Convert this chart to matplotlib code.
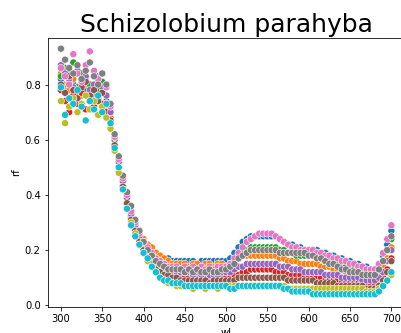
import numpy as np
import pandas as pd
import matplotlib
matplotlib.use("Agg")
import matplotlib.pyplot as plt
import seaborn as sns

# comprimento de onda (nm), passo de 5
wl = list(range(300, 705, 5))

# reflectancia de cada amostra
s1 = [0.82, 0.79, 0.84, 0.80, 0.77, 0.81, 0.78, 0.80, 0.76, 0.79, 0.77, 0.74,
      0.70, 0.60, 0.52, 0.45, 0.39, 0.34, 0.30, 0.27,
      0.24, 0.22, 0.20, 0.19, 0.18, 0.17, 0.17, 0.16,
      0.16, 0.16, 0.16, 0.16, 0.16, 0.15, 0.16, 0.16, 0.16, 0.16, 0.16, 0.16,
      0.16, 0.17, 0.19, 0.21, 0.23, 0.24, 0.25, 0.25,
      0.25, 0.25, 0.25, 0.25, 0.25, 0.24, 0.23, 0.22, 0.22, 0.21, 0.21, 0.20,
      0.20, 0.20, 0.20, 0.19, 0.19, 0.18, 0.18, 0.17, 0.17, 0.16, 0.16, 0.15,
      0.15, 0.14, 0.14, 0.13, 0.13, 0.15, 0.18, 0.22, 0.27]
s2 = [0.84, 0.80, 0.78, 0.82, 0.79, 0.76, 0.80, 0.77, 0.79, 0.75, 0.78, 0.72,
      0.68, 0.60, 0.53, 0.46, 0.40, 0.34, 0.30, 0.27,
      0.24, 0.22, 0.21, 0.19, 0.18, 0.17, 0.16, 0.15,
      0.15, 0.15, 0.15, 0.14, 0.15, 0.15, 0.14, 0.15, 0.15, 0.14, 0.15, 0.15,
      0.14, 0.15, 0.16, 0.17, 0.18, 0.18, 0.18, 0.18,
      0.18, 0.18, 0.18, 0.18, 0.18, 0.17, 0.17, 0.16, 0.16, 0.16, 0.15, 0.15,
      0.15, 0.15, 0.15, 0.14, 0.14, 0.14, 0.13, 0.13, 0.13, 0.12, 0.12, 0.12,
      0.11, 0.11, 0.11, 0.10, 0.10, 0.12, 0.14, 0.17, 0.21]
s3 = [0.83, 0.86, 0.81, 0.88, 0.79, 0.84, 0.82, 0.80, 0.83, 0.78, 0.81, 0.76,
      0.70, 0.60, 0.52, 0.45, 0.39, 0.33, 0.29, 0.26,
      0.23, 0.20, 0.18, 0.17, 0.16, 0.15, 0.14, 0.14,
      0.13, 0.13, 0.13, 0.12, 0.13, 0.12, 0.12, 0.13, 0.12, 0.12, 0.12, 0.13,
      0.13, 0.14, 0.16, 0.18, 0.19, 0.20, 0.21, 0.21,
      0.21, 0.21, 0.21, 0.21, 0.21, 0.20, 0.20, 0.19, 0.19, 0.18, 0.18, 0.18,
      0.18, 0.18, 0.17, 0.17, 0.16, 0.16, 0.15, 0.15, 0.14, 0.14, 0.14, 0.13,
      0.13, 0.12, 0.12, 0.11, 0.11, 0.13, 0.16, 0.20, 0.24]
s4 = [0.78, 0.74, 0.70, 0.76, 0.73, 0.77, 0.71, 0.74, 0.72, 0.75, 0.73, 0.70,
      0.66, 0.58, 0.50, 0.43, 0.37, 0.32, 0.28, 0.24,
      0.21, 0.18, 0.16, 0.15, 0.14, 0.13, 0.12, 0.12,
      0.11, 0.11, 0.11, 0.10, 0.11, 0.10, 0.10, 0.11, 0.10, 0.10, 0.10, 0.10,
      0.10, 0.10, 0.11, 0.11, 0.12, 0.12, 0.13, 0.13,
      0.13, 0.13, 0.13, 0.13, 0.12, 0.12, 0.12, 0.11, 0.11, 0.11, 0.11, 0.10,
      0.10, 0.10, 0.10, 0.10, 0.09, 0.09, 0.09, 0.09, 0.09, 0.08, 0.08, 0.08,
      0.08, 0.08, 0.07, 0.07, 0.07, 0.08, 0.10, 0.13, 0.17]
s5 = [0.87, 0.84, 0.82, 0.79, 0.85, 0.81, 0.83, 0.78, 0.80, 0.83, 0.79, 0.76,
      0.70, 0.61, 0.52, 0.45, 0.39, 0.33, 0.29, 0.25,
      0.22, 0.19, 0.17, 0.16, 0.15, 0.14, 0.13, 0.13,
      0.12, 0.12, 0.12, 0.12, 0.11, 0.12, 0.11, 0.12, 0.11, 0.11, 0.11, 0.12,
      0.12, 0.12, 0.13, 0.14, 0.14, 0.15, 0.15, 0.15,
      0.15, 0.15, 0.15, 0.15, 0.15, 0.14, 0.14, 0.14, 0.13, 0.13, 0.13, 0.12,
      0.12, 0.12, 0.12, 0.12, 0.11, 0.11, 0.11, 0.11, 0.10, 0.10, 0.10, 0.10,
      0.10, 0.09, 0.09, 0.09, 0.09, 0.10, 0.12, 0.16, 0.20]
s6 = [0.80, 0.77, 0.83, 0.78, 0.75, 0.79, 0.81, 0.76, 0.78, 0.74, 0.77, 0.73,
      0.67, 0.58, 0.50, 0.43, 0.37, 0.31, 0.27, 0.23,
      0.20, 0.17, 0.15, 0.13, 0.12, 0.11, 0.11, 0.10,
      0.10, 0.09, 0.09, 0.09, 0.09, 0.09, 0.09, 0.09, 0.08, 0.09, 0.09, 0.09,
      0.09, 0.09, 0.09, 0.10, 0.10, 0.10, 0.10, 0.10,
      0.10, 0.10, 0.10, 0.10, 0.10, 0.10, 0.10, 0.09, 0.09, 0.09, 0.09, 0.09,
      0.09, 0.09, 0.08, 0.08, 0.08, 0.08, 0.08, 0.07, 0.07, 0.07, 0.07, 0.07,
      0.07, 0.07, 0.06, 0.06, 0.06, 0.07, 0.09, 0.12, 0.16]
s7 = [0.86, 0.83, 0.80, 0.91, 0.84, 0.81, 0.87, 0.92, 0.85, 0.82, 0.84, 0.79,
      0.72, 0.61, 0.53, 0.46, 0.40, 0.34, 0.30, 0.26,
      0.23, 0.21, 0.19, 0.17, 0.16, 0.15, 0.14, 0.14,
      0.14, 0.13, 0.14, 0.13, 0.14, 0.13, 0.14, 0.13, 0.14, 0.13, 0.14, 0.14,
      0.14, 0.15, 0.17, 0.19, 0.21, 0.23, 0.24, 0.25,
      0.26, 0.26, 0.26, 0.26, 0.25, 0.24, 0.23, 0.22, 0.21, 0.21, 0.20, 0.20,
      0.20, 0.20, 0.19, 0.19, 0.18, 0.18, 0.17, 0.17, 0.16, 0.16, 0.15, 0.15,
      0.14, 0.14, 0.13, 0.13, 0.13, 0.15, 0.19, 0.24, 0.29]
s8 = [0.93, 0.89, 0.86, 0.84, 0.87, 0.82, 0.85, 0.88, 0.83, 0.80, 0.84, 0.80,
      0.73, 0.62, 0.54, 0.47, 0.41, 0.36, 0.31, 0.27,
      0.23, 0.20, 0.18, 0.16, 0.15, 0.14, 0.13, 0.13,
      0.13, 0.13, 0.12, 0.13, 0.12, 0.13, 0.12, 0.12, 0.13, 0.12, 0.12, 0.13,
      0.13, 0.14, 0.15, 0.17, 0.18, 0.19, 0.20, 0.20,
      0.20, 0.20, 0.20, 0.20, 0.20, 0.19, 0.19, 0.19, 0.19, 0.19, 0.19, 0.19,
      0.18, 0.18, 0.17, 0.17, 0.16, 0.15, 0.15, 0.14, 0.13, 0.13, 0.12, 0.12,
      0.12, 0.11, 0.11, 0.11, 0.11, 0.13, 0.16, 0.20, 0.25]
s9 = [0.74, 0.66, 0.72, 0.75, 0.70, 0.73, 0.76, 0.71, 0.74, 0.69, 0.72, 0.68,
      0.64, 0.56, 0.48, 0.42, 0.35, 0.30, 0.26, 0.22,
      0.19, 0.16, 0.14, 0.12, 0.10, 0.09, 0.08, 0.08,
      0.07, 0.07, 0.07, 0.07, 0.06, 0.07, 0.07, 0.06, 0.07, 0.07, 0.06, 0.07,
      0.07, 0.07, 0.07, 0.07, 0.07, 0.07, 0.07, 0.07,
      0.07, 0.07, 0.07, 0.07, 0.07, 0.07, 0.07, 0.06, 0.06, 0.06, 0.06, 0.06,
      0.06, 0.06, 0.06, 0.06, 0.06, 0.06, 0.06, 0.06, 0.06, 0.06, 0.06, 0.06,
      0.06, 0.06, 0.05, 0.05, 0.05, 0.06, 0.07, 0.09, 0.11]
s10 = [0.79, 0.69, 0.75, 0.73, 0.78, 0.72, 0.67, 0.74, 0.71, 0.76, 0.70, 0.73,
       0.66, 0.57, 0.50, 0.42, 0.35, 0.29, 0.25, 0.22,
       0.19, 0.17, 0.14, 0.12, 0.10, 0.09, 0.09, 0.08,
       0.08, 0.08, 0.07, 0.07, 0.07, 0.07, 0.07, 0.07, 0.07, 0.07, 0.07, 0.07,
       0.07, 0.06, 0.06, 0.07, 0.07, 0.07, 0.07, 0.07,
       0.07, 0.07, 0.07, 0.07, 0.07, 0.07, 0.06, 0.06, 0.05, 0.05, 0.05, 0.05,
       0.05, 0.04, 0.04, 0.04, 0.04, 0.04, 0.04, 0.04, 0.04, 0.04, 0.04, 0.04,
       0.04, 0.04, 0.04, 0.04, 0.04, 0.05, 0.07, 0.09, 0.12]

amostras = [s1, s2, s3, s4, s5, s6, s7, s8, s9, s10]

rows = []
for i, vals in enumerate(amostras):
    for w, r in zip(wl, vals):
        rows.append({"wl": w, "rf": r, "amostra": str(i + 1)})
df = pd.DataFrame(rows)

fig = plt.figure(figsize=(401 / 72, 333 / 72), dpi=72)
ax = fig.add_axes([0.119, 0.079, 0.892, 0.808])
sns.scatterplot(data=df, x="wl", y="rf", hue="amostra", palette="tab10",
                s=50, legend=False, ax=ax)
ax.set_xlim(284, 717)
ax.set_ylim(-0.005, 0.97)
ax.set_title("Schizolobium parahyba", fontsize=25)

plt.savefig("out.png", dpi=72)
